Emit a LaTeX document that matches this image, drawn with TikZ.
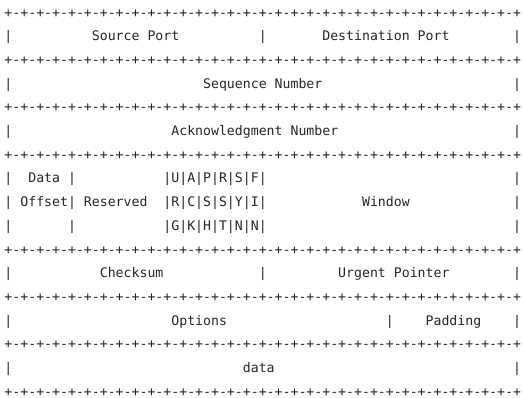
\documentclass[tikz,border=0pt]{standalone}
\usepackage{fontspec}
\usepackage{tikz}
\newfontfamily\hdrfont{DejaVu Sans Mono}
\newcommand{\rulerow}{+-+-+-+-+-+-+-+-+-+-+-+-+-+-+-+-+-+-+-+-+-+-+-+-+-+-+-+-+-+-+-+-+}

\begin{document}
\begin{tikzpicture}[x=7.946pt, y=-23.7pt,
	hdrtext/.style={anchor=base west, inner sep=0pt, outer sep=0pt, text=black!85,
		font=\hdrfont\fontsize{13.2}{16}\selectfont}]
	\useasboundingbox (-4.5pt,17pt) rectangle (518.5pt,-380pt);
	% separator lines
	\foreach \r in {0,2,4,6,10,12,14,16}
		\node[hdrtext] (rule\r) at (0,\r) {\rulerow};
	% outer walls
	\foreach \r in {1,3,5,7,8,9,11,13,15} {
		\node[hdrtext] (lwall\r) at (0,\r) {|};
		\node[hdrtext] (rwall\r) at (64,\r) {|};
	}
	% ports
	\node[hdrtext] (sport) at (11,1) {Source Port};
	\node[hdrtext] (mid1) at (32,1) {|};
	\node[hdrtext] (dport) at (40,1) {Destination Port};
	\node[hdrtext] (seq) at (25,3) {Sequence Number};
	\node[hdrtext] (ack) at (21,5) {Acknowledgment Number};
	% offset, reserved, flags, window
	\node[hdrtext] (data) at (3,7) {Data};
	\node[hdrtext] (dsep7) at (8,7) {|};
	\node[hdrtext] (flags7) at (20,7) {|U|A|P|R|S|F|};
	\node[hdrtext] (offset) at (2,8) {Offset|};
	\node[hdrtext] (rsvd) at (10,8) {Reserved};
	\node[hdrtext] (flags8) at (20,8) {|R|C|S|S|Y|I|};
	\node[hdrtext] (window) at (45,8) {Window};
	\node[hdrtext] (dsep9) at (8,9) {|};
	\node[hdrtext] (flags9) at (20,9) {|G|K|H|T|N|N|};
	% checksum, urgent
	\node[hdrtext] (csum) at (12,11) {Checksum};
	\node[hdrtext] (mid11) at (32,11) {|};
	\node[hdrtext] (urg) at (42,11) {Urgent Pointer};
	% options, padding, data
	\node[hdrtext] (opts) at (21,13) {Options};
	\node[hdrtext] (mid13) at (48,13) {|};
	\node[hdrtext] (pad) at (53,13) {Padding};
	\node[hdrtext] (payload) at (30,15) {data};
\end{tikzpicture}
\end{document}
